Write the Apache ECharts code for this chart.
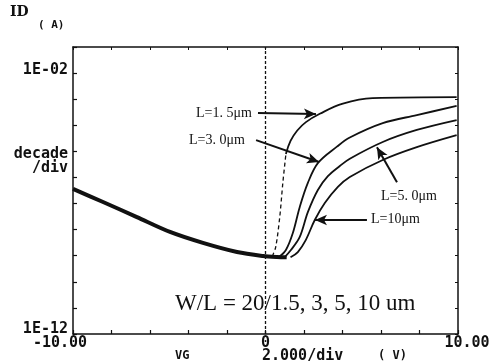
<!DOCTYPE html>
<html>
<head>
<meta charset="utf-8">
<script src="https://cdn.jsdelivr.net/npm/echarts@6/dist/echarts.min.js"></script>
<style>
  html, body { margin: 0; background: #fff; }
  #chart { width: 504px; height: 362px; }
</style>
</head>
<body>
<div id="chart"></div>
<script>
// VG in volts, values are log10(ID / A)
const common = [[-10, -6.44], [-8.44, -6.94], [-6.68, -7.52], [-4.96, -8.09], [-3.25, -8.51], [-1.48, -8.86], [-0.13, -9.01], [0.6, -9.05], [1.1, -9.06]];
const l15Dashed = [[0.35, -9.03], [0.53, -8.67], [0.74, -7.52], [0.90, -6.21], [1.06, -5.1]];
const l15 = [[1.06, -5.1], [1.30, -4.6], [1.65, -4.2], [2.10, -3.88], [2.82, -3.56], [4.02, -3.17], [5.56, -2.96], [9.93, -2.92]];
const l30 = [[0.7, -9.05], [1.06, -8.78], [1.42, -8.13], [1.78, -7.13], [2.20, -6.21], [2.72, -5.45], [3.71, -4.82], [4.38, -4.47], [6.09, -3.92], [7.86, -3.61], [9.93, -3.26]];
const l50 = [[1.0, -9.05], [1.32, -8.78], [1.78, -8.28], [2.20, -7.33], [2.72, -6.48], [3.24, -5.95], [3.86, -5.56], [4.38, -5.28], [6.09, -4.64], [7.86, -4.18], [9.93, -3.80]];
const l10 = [[1.3, -9.06], [1.68, -8.86], [2.09, -8.40], [2.56, -7.63], [3.08, -6.98], [3.76, -6.36], [4.38, -5.98], [6.09, -5.33], [7.86, -4.84], [9.93, -4.38]];

// arrows: [from, to] in data coords
const arrows = [
  [[-0.39, -3.53], [2.62, -3.57]],
  [[-0.49, -4.57], [2.78, -5.41]],
  [[6.83, -6.18], [5.79, -4.84]],
  [[5.27, -7.63], [2.57, -7.63]]
];

const xTickLabels = { '-10': 'a', '0': 'b', '10': 'c' };
const xTickText = { a: '-10.00', b: '0', c: '10.00' };
const yTickLabels = { '-2': 'a', '-12': 'b' };
const yTickText = { a: '1E-02', b: '1E-12' };

const axisFont = { fontFamily: 'DejaVu Sans Mono', fontWeight: 'bold', fontSize: 15, color: '#111' };
const serif = 'Liberation Serif';

const chart = echarts.init(document.getElementById('chart'));

const blackLine = (w, type) => ({ color: '#111', width: w, type: type || 'solid' });

const option = {
  animation: false,
  grid: { left: 73, right: 46, top: 47, bottom: 28 },
  xAxis: [
    {
      type: 'value', min: -10, max: 10, interval: 2,
      axisLine: { onZero: false, lineStyle: blackLine(1.5) },
      axisTick: { inside: true, length: 4, lineStyle: blackLine(1.2) },
      splitLine: { show: false },
      axisLabel: {
        margin: 2,
        formatter: v => { const k = xTickLabels[String(v)]; return k ? '{' + k + '|' + xTickText[k] + '}' : ''; },
        rich: {
          a: Object.assign({ padding: [0, 26, 0, 0] }, axisFont),
          b: Object.assign({}, axisFont),
          c: Object.assign({ padding: [0, 0, 0, 18] }, axisFont)
        }
      }
    },
    {
      type: 'value', min: -10, max: 10, interval: 2, position: 'top',
      axisLine: { onZero: false, lineStyle: blackLine(1.5) },
      axisTick: { inside: true, length: 3, lineStyle: blackLine(1) },
      splitLine: { show: false }, axisLabel: { show: false }
    }
  ],
  yAxis: [
    {
      type: 'value', min: -12, max: -1, interval: 1,
      axisLine: { onZero: false, lineStyle: blackLine(1.5) },
      axisTick: { inside: true, length: 4, lineStyle: blackLine(1.2) },
      splitLine: { show: false },
      axisLabel: {
        margin: 5,
        formatter: v => { const k = yTickLabels[String(v)]; return k ? '{' + k + '|' + yTickText[k] + '}' : ''; },
        rich: {
          a: Object.assign({ padding: [0, 0, 6, 0] }, axisFont),
          b: Object.assign({ padding: [0, 0, 10, 0] }, axisFont)
        }
      }
    },
    {
      type: 'value', min: -12, max: -1, interval: 1, position: 'right',
      axisLine: { show: true, onZero: false, lineStyle: blackLine(1.5) },
      axisTick: { show: true, inside: true, length: 3, lineStyle: blackLine(1) },
      splitLine: { show: false }, axisLabel: { show: false }
    }
  ],
  series: [
    {
      type: 'line', data: common, smooth: 0.3, symbol: 'none',
      lineStyle: blackLine(4),
      markLine: {
        silent: true, symbol: 'none', label: { show: false },
        lineStyle: blackLine(1.3, [3, 2]),
        data: [{ xAxis: 0 }]
      }
    },
    { type: 'line', data: l15Dashed, smooth: 0.3, symbol: 'none', lineStyle: blackLine(1.3, [4, 3]) },
    { type: 'line', data: l15, smooth: 0.4, symbol: 'none', lineStyle: blackLine(1.8) },
    { type: 'line', data: l30, smooth: 0.35, symbol: 'none', lineStyle: blackLine(1.8) },
    { type: 'line', data: l50, smooth: 0.35, symbol: 'none', lineStyle: blackLine(1.8) },
    { type: 'line', data: l10, smooth: 0.35, symbol: 'none', lineStyle: blackLine(1.8) },
    {
      type: 'line', data: [],
      markLine: {
        silent: true, symbol: ['none', 'arrow'], symbolSize: [8, 12],
        label: { show: false },
        lineStyle: blackLine(2),
        data: arrows.map(a => [{ coord: a[0] }, { coord: a[1] }])
      }
    }
  ],
  graphic: [
    { type: 'text', left: 10, top: 5, style: { text: 'ID', font: 'bold 14px "DejaVu Serif"', fill: '#111' } },
    { type: 'text', left: 38, top: 20, style: { text: '( A)', font: 'bold 11px "DejaVu Sans Mono"', fill: '#111' } },
    { type: 'text', right: 436, top: 147, style: { text: 'decade', font: 'bold 15px "DejaVu Sans Mono"', fill: '#111', align: 'right' } },
    { type: 'text', right: 436, top: 161, style: { text: '/div', font: 'bold 15px "DejaVu Sans Mono"', fill: '#111', align: 'right' } },
    { type: 'text', left: 175, top: 350, style: { text: 'VG', font: 'bold 12px "DejaVu Sans Mono"', fill: '#111' } },
    { type: 'text', left: 262, top: 349, style: { text: '2.000/div', font: 'bold 15px "DejaVu Sans Mono"', fill: '#111' } },
    { type: 'text', left: 378, top: 350, style: { text: '( V)', font: 'bold 12px "DejaVu Sans Mono"', fill: '#111' } },
    { type: 'text', left: 196, top: 106, style: { text: 'L=1. 5\u03bcm', font: '14px "' + serif + '"', fill: '#111' } },
    { type: 'text', left: 189, top: 133, style: { text: 'L=3. 0\u03bcm', font: '14px "' + serif + '"', fill: '#111' } },
    { type: 'text', left: 381, top: 189, style: { text: 'L=5. 0\u03bcm', font: '14px "' + serif + '"', fill: '#111' } },
    { type: 'text', left: 371, top: 212, style: { text: 'L=10\u03bcm', font: '14px "' + serif + '"', fill: '#111' } },
    { type: 'text', left: 175, top: 292, style: { text: 'W/L = 20/1.5, 3, 5, 10 um', font: '23px "' + serif + '"', fill: '#111' } }
  ]
};

chart.setOption(option);
</script>
</body>
</html>
